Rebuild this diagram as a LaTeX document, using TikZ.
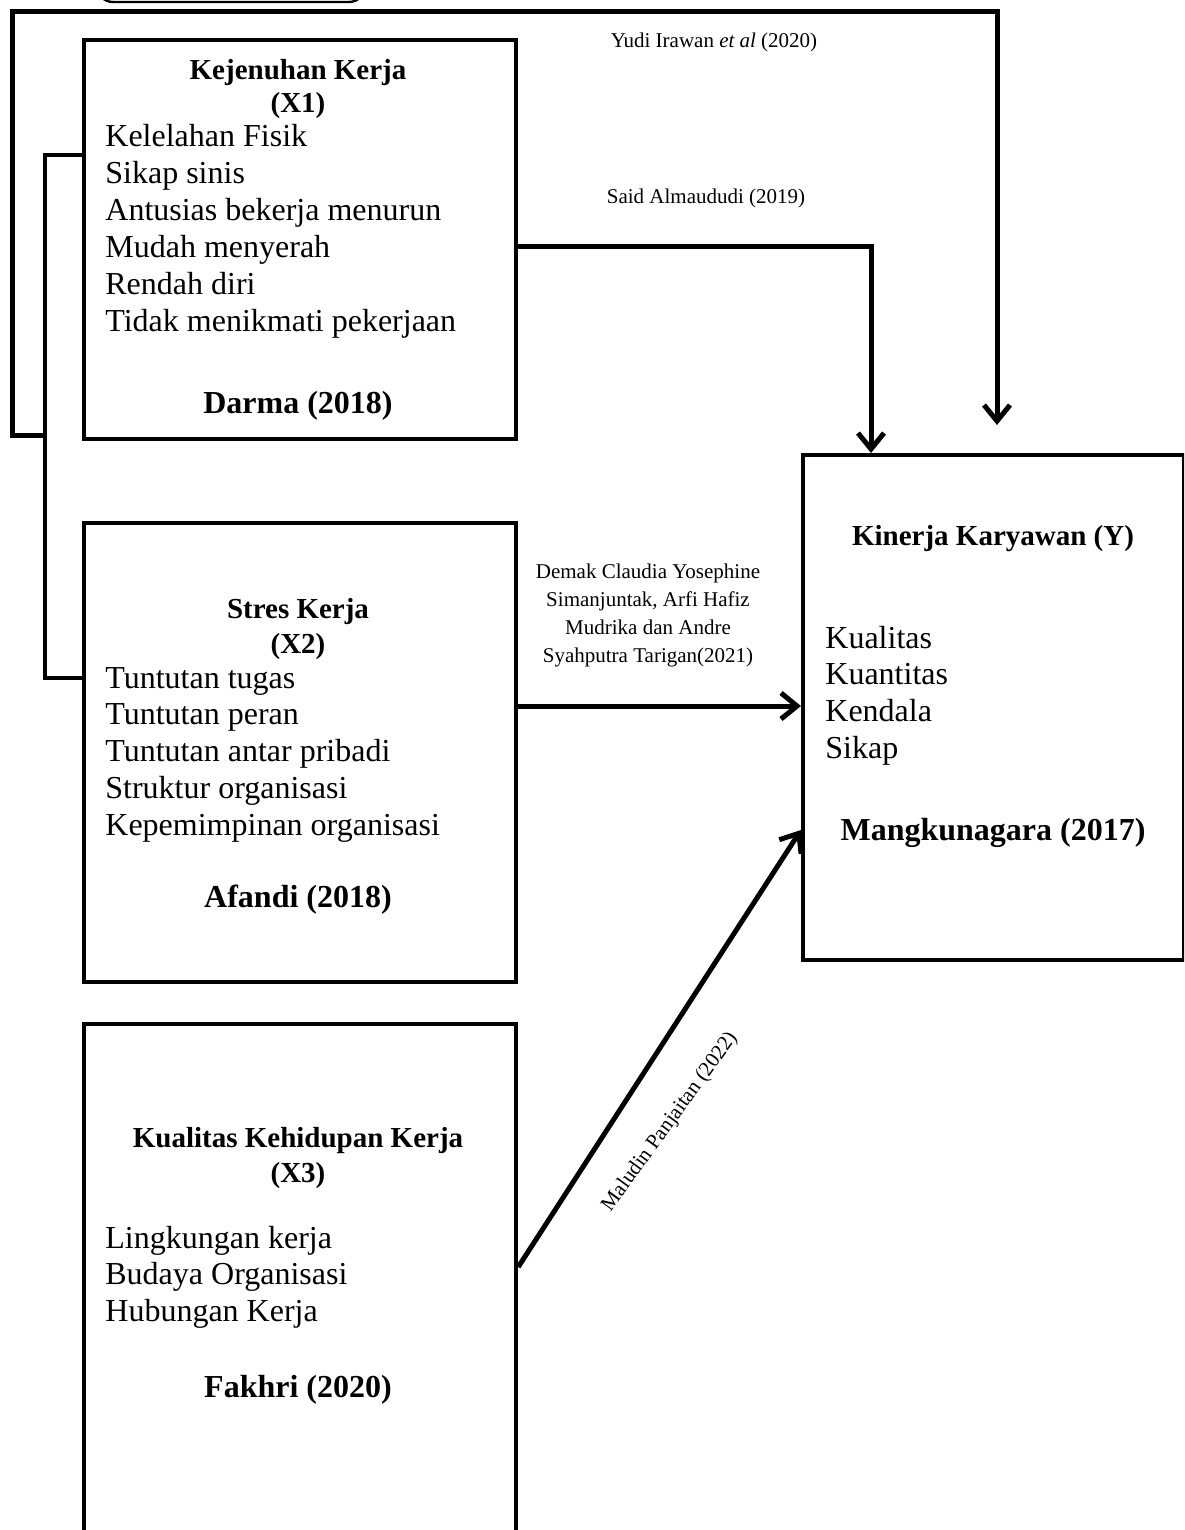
\documentclass[tikz,border=0pt]{standalone}
\usepackage{fontspec}
\setmainfont{Liberation Serif}
\usetikzlibrary{arrows.meta}
\tikzset{
  box/.style={draw,line width=2.1pt,inner sep=0pt,anchor=north west,minimum width=216pt},
  line/.style={line width=2.4pt},
  arr/.style={line width=2.5pt,-{Straight Barb[length=8pt,width=13pt]}},
  item/.style={anchor=base west,inner sep=0pt,font=\fontsize{16}{18.5}\selectfont},
  head/.style={anchor=base,inner sep=0pt,font=\fontsize{14.5}{17}\selectfont\bfseries},
  src/.style={anchor=base,inner sep=0pt,font=\fontsize{16}{18.5}\selectfont\bfseries},
  cite/.style={anchor=base,inner sep=0pt,font=\fontsize{10.5}{14}\selectfont},
}
\begin{document}
\begin{tikzpicture}[x=0.5pt,y=-0.5pt]
  \useasboundingbox (0,0) rectangle (1184,1530);
  \clip (0,0) rectangle (1184,1530);
  \draw[line width=1.2pt,rounded corners=8pt] (97,-40) rectangle (365,2);
  % boxes
  \node[box,minimum height=199.5pt] (x1) at (82,38) {};
  \node[box,minimum height=229.5pt] (x2) at (82,521) {};
  \node[box,minimum height=289pt] (x3) at (82,1022) {};
  \node[box,minimum width=190.5pt,minimum height=252.5pt] (y) at (801,453) {};
  % X1
  \node[head] (x1h) at (298,80) {Kejenuhan Kerja};
  \node[head] (x1k) at (298,113) {(X1)};
  \foreach \t [count=\i from 0] in {Kelelahan Fisik,Sikap sinis,Antusias bekerja menurun,Mudah menyerah,Rendah diri,Tidak menikmati pekerjaan}
    \node[item] (x1i\i) at (105,{147+36.8*\i}) {\t};
  \node[src] (x1s) at (298,413) {Darma (2018)};
  % X2
  \node[head] (x2h) at (298,618) {Stres Kerja};
  \node[head] (x2k) at (298,653) {(X2)};
  \foreach \t [count=\i from 0] in {Tuntutan tugas,Tuntutan peran,Tuntutan antar pribadi,Struktur organisasi,Kepemimpinan organisasi}
    \node[item] (x2i\i) at (105,{688+36.8*\i}) {\t};
  \node[src] (x2s) at (298,907) {Afandi (2018)};
  % X3
  \node[head] (x3h) at (298,1147) {Kualitas Kehidupan Kerja};
  \node[head] (x3k) at (298,1182) {(X3)};
  \foreach \t [count=\i from 0] in {Lingkungan kerja,Budaya Organisasi,Hubungan Kerja}
    \node[item] (x3i\i) at (105,{1248+36.8*\i}) {\t};
  \node[src] (x3s) at (298,1397) {Fakhri (2020)};
  % Y
  \node[head] (yh) at (993,545) {Kinerja Karyawan (Y)};
  \foreach \t [count=\i from 0] in {Kualitas,Kuantitas,Kendala,Sikap}
    \node[item] (yi\i) at (825,{648+36.8*\i}) {\t};
  \node[src] (ys) at (993,840) {Mangkunagara (2017)};
  % citations
  \node[cite] (c1) at (714,48) {Yudi Irawan \textit{et al} (2020)};
  \node[cite] (c2) at (706,204) {Said Almaududi (2019)};
  \foreach \t [count=\i from 0] in {Demak Claudia Yosephine,Simanjuntak{,} Arfi Hafiz,Mudrika dan Andre,Syahputra Tarigan(2021)}
    \node[cite] (c3\i) at (648,{578+28.3*\i}) {\t};
  \node[cite,anchor=center,rotate=54] (c4) at (670,1122) {Maludin Panjaitan (2022)};
  % connectors
  \coordinate (b1) at (0,155);
  \coordinate (b2) at (0,678);
  \coordinate (jn) at (45,435);
  \coordinate (ytip) at (997,425);
  \coordinate (s0) at (0,247);
  \coordinate (said) at (871,0);
  \coordinate (d0) at (0,706);
  \coordinate (m0) at (0,1267);
  \coordinate (m1) at (0,830);
  \draw[line] (x1.west |- b1) -- (45,155) -- (45,678) -- (x2.west |- b2);
  \draw[arr] (jn) -- (12,435) -- (12,12) -| (ytip);
  \draw[arr] (x1.east |- s0) -| (said |- y.north);
  \draw[arr] (x2.east |- d0) -- (y.west |- d0);
  \draw[arr] (x3.east |- m0) -- (y.west |- m1);
\end{tikzpicture}
\end{document}
